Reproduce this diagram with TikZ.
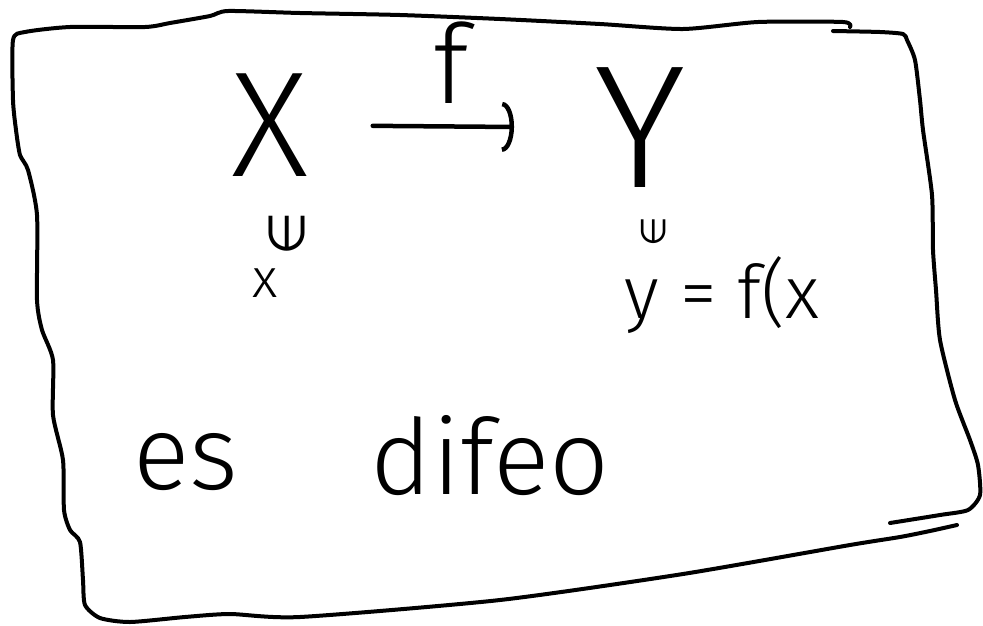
\documentclass[tikz,border=0pt]{standalone}
\usepackage{fontspec}
\setmainfont{Fira Sans}[UprightFont={* Light}]
\newfontfamily\symfont{DejaVu Sans}
\usetikzlibrary{arrows.meta}
\tikzset{
  frame/.style={line width=4pt, line cap=round, line join=round},
  hand/.style={inner sep=0pt, font=\fontsize{#1}{#1}\selectfont},
  hand/.default=60,
  maps/.style={line width=4.5pt, line cap=round, -{Arc Barb[length=12pt,width=50pt,line width=4.5pt]}},
}
\begin{document}
\begin{tikzpicture}[x=1pt,y=-1pt]
\useasboundingbox (0,0) rectangle (983,625);
% the frame, two strokes
\draw[frame] plot[smooth, tension=0.4] coordinates {(850,27) (843,22) (758,22) (683,29) (600,24) (500,19) (400,15) (300,13) (228,11) (210,16) (170,23) (145,27) (70,27) (25,32) (13,40) (13,100) (16,130) (20,155) (28,170) (37,215) (37,300) (42,330) (53,360) (53,415) (63,460) (64,510) (70,530) (80,542) (83,580) (85,605) (100,618) (130,622) (185,617) (230,614) (300,617) (500,600) (683,574) (850,545) (900,537) (930,531) (957,525)};
\draw[frame] plot[smooth, tension=0.4] coordinates {(833,31) (880,32) (903,34) (907,40) (915,60) (920,100) (923,130) (932,195) (933,250) (936,290) (940,340) (955,400) (970,440) (978,465) (980,495) (968,510) (940,515) (890,523)};
% the map
\node[hand=150] (X) at (270,125) {X};
\node[hand=175] (Y) at (640,128) {Y};
\draw[maps, shorten <=64pt, shorten >=80pt] (X) -- (Y) node[midway, above=21pt, hand=110] (f) {f};
% elements
\node[hand=50, rotate=90] (inX) at (287,234) {\symfont ∈};
\node[hand=55] (x) at (265,283) {x};
\node[hand=34, rotate=90] (inY) at (654,232) {\symfont ∈};
\node[hand=74] (yfx) at (722,295) {y = f(x};
% the claim
\node[hand=105] (es) at (186,462) {es};
\node[hand=105] (difeo) at (490,456) {difeo};
\end{tikzpicture}
\end{document}
